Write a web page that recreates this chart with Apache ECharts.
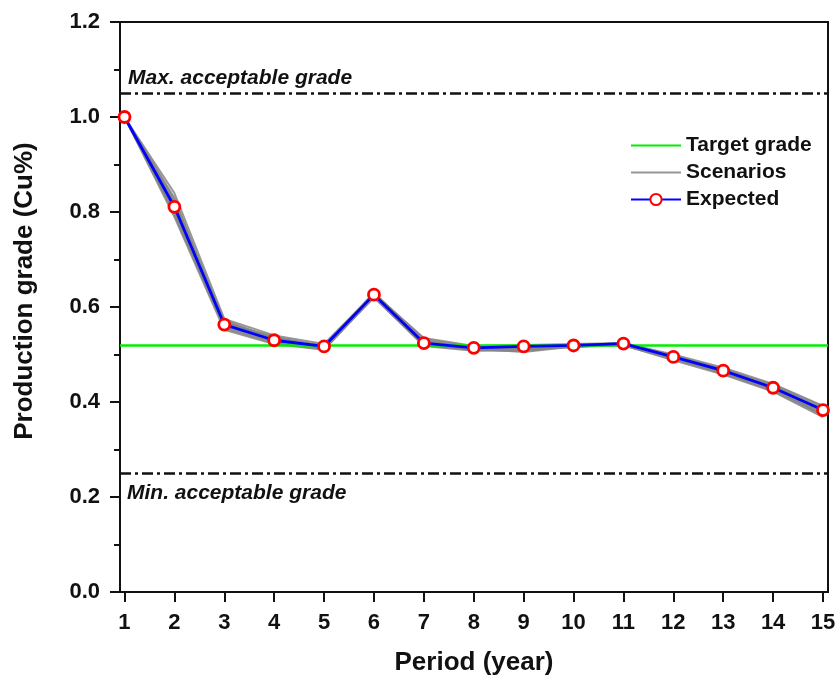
<!DOCTYPE html>
<html>
<head>
<meta charset="utf-8">
<script src="https://cdn.jsdelivr.net/npm/echarts@6/dist/echarts.min.js"></script>
<style>
  html, body { margin: 0; padding: 0; background: #fff; }
  #chart { width: 839px; height: 681px; }
</style>
</head>
<body>
<div id="chart"></div>
<script>
// Periods (years)
const periods = [1, 2, 3, 4, 5, 6, 7, 8, 9, 10, 11, 12, 13, 14, 15];

// Expected production grade per period (Cu%)
const expected = [1.000, 0.811, 0.563, 0.530, 0.517, 0.626, 0.524, 0.514, 0.517, 0.519, 0.523, 0.495, 0.466, 0.430, 0.383];

// Individual simulated scenarios
const scenario1 = [1.000, 0.840, 0.575, 0.540, 0.522, 0.628, 0.535, 0.518, 0.520, 0.522, 0.524, 0.500, 0.472, 0.438, 0.392];
const scenario2 = [1.000, 0.790, 0.552, 0.522, 0.510, 0.622, 0.518, 0.508, 0.510, 0.515, 0.520, 0.488, 0.458, 0.422, 0.368];
const scenario3 = [1.000, 0.825, 0.568, 0.535, 0.518, 0.630, 0.528, 0.512, 0.505, 0.517, 0.522, 0.497, 0.470, 0.434, 0.386];
const scenario4 = [1.000, 0.800, 0.558, 0.526, 0.514, 0.620, 0.520, 0.510, 0.514, 0.520, 0.521, 0.492, 0.462, 0.426, 0.376];
const scenario5 = [1.000, 0.815, 0.570, 0.532, 0.512, 0.624, 0.526, 0.515, 0.518, 0.516, 0.523, 0.494, 0.466, 0.432, 0.380];
const scenario6 = [1.000, 0.805, 0.562, 0.528, 0.520, 0.627, 0.522, 0.509, 0.508, 0.521, 0.519, 0.490, 0.464, 0.428, 0.372];
const scenario7 = [1.000, 0.830, 0.565, 0.538, 0.516, 0.625, 0.530, 0.513, 0.512, 0.518, 0.525, 0.498, 0.468, 0.436, 0.390];
const scenario8 = [1.000, 0.795, 0.555, 0.524, 0.511, 0.621, 0.519, 0.511, 0.516, 0.519, 0.520, 0.491, 0.460, 0.424, 0.372];
const scenario9 = [1.000, 0.820, 0.560, 0.530, 0.515, 0.629, 0.532, 0.516, 0.513, 0.520, 0.522, 0.496, 0.467, 0.431, 0.384];
const scenario10 = [1.000, 0.808, 0.572, 0.534, 0.519, 0.623, 0.523, 0.511, 0.507, 0.518, 0.524, 0.493, 0.463, 0.429, 0.378];
const scenarios = [scenario1, scenario2, scenario3, scenario4, scenario5, scenario6, scenario7, scenario8, scenario9, scenario10];

// Reference grades (Cu%)
const targetGrade = 0.52;
const maxGrade = 1.05;
const minGrade = 0.25;

// Y-axis tick values
const yTicks = [0, 0.2, 0.4, 0.6, 0.8, 1.0, 1.2];

const FONT = 'Arial, "Liberation Sans", sans-serif';
const dashDot = [11, 4, 3, 4];

const pair = arr => periods.map((p, i) => [p, arr[i]]);

const series = [];

// Target grade line across the plot
series.push({
  name: 'Target grade',
  type: 'line',
  data: [],
  symbol: 'none',
  lineStyle: { color: '#00ee00', width: 2.5 },
  itemStyle: { color: '#00ee00' },
  markLine: {
    silent: true,
    symbol: 'none',
    label: { show: false },
    lineStyle: { color: '#00ee00', width: 2.5, type: 'solid' },
    data: [{ yAxis: targetGrade }]
  },
  z: 2
});

// Scenario bundle
scenarios.forEach(s => {
  series.push({
    name: 'Scenarios',
    type: 'line',
    data: pair(s),
    symbol: 'none',
    silent: true,
    lineStyle: { color: '#858585', width: 2, opacity: 0.85 },
    itemStyle: { color: '#858585' },
    z: 3
  });
});

// Acceptable grade limits
series.push({
  name: 'limits',
  type: 'line',
  data: [],
  symbol: 'none',
  markLine: {
    silent: true,
    symbol: 'none',
    lineStyle: { color: '#111', width: 2.5, type: dashDot },
    label: {
      show: true,
      fontFamily: FONT,
      fontSize: 21,
      fontWeight: 'bold',
      fontStyle: 'italic',
      color: '#111'
    },
    data: [
      { yAxis: maxGrade, label: { position: 'insideStartTop', distance: [8, 5], formatter: 'Max. acceptable grade' } },
      { yAxis: minGrade, label: { position: 'insideStartBottom', distance: [7, 9], formatter: 'Min. acceptable grade' } }
    ]
  },
  z: 2
});

// Expected grade
series.push({
  name: 'Expected',
  type: 'line',
  data: pair(expected),
  symbol: 'circle',
  symbolSize: 11,
  lineStyle: { color: '#0000ff', width: 2.8 },
  itemStyle: { color: '#ffffff', borderColor: '#ff0000', borderWidth: 2.8 },
  z: 5
});

const chart = echarts.init(document.getElementById('chart'), null, { renderer: 'canvas' });
chart.setOption({
  animation: false,
  backgroundColor: '#ffffff',
  grid: {
    left: 120, right: 11, top: 22, bottom: 88,
    show: true, borderColor: '#111', borderWidth: 2
  },
  legend: {
    data: [
      { name: 'Target grade', itemStyle: { opacity: 0 } },
      { name: 'Scenarios', itemStyle: { opacity: 0 } },
      { name: 'Expected' }
    ],
    orient: 'vertical',
    left: 625,
    top: 130,
    itemWidth: 50,
    itemHeight: 14,
    itemGap: 6,
    textStyle: { fontFamily: FONT, fontSize: 21, fontWeight: 'bold', color: '#111' }
  },
  xAxis: {
    type: 'value',
    min: 0.91,
    max: 15.1,
    name: 'Period (year)',
    nameLocation: 'middle',
    nameGap: 58,
    nameTextStyle: { fontFamily: FONT, fontSize: 26, fontWeight: 'bold', color: '#111' },
    axisLine: { show: true, onZero: false, lineStyle: { color: '#111', width: 2 } },
    axisTick: { show: true, length: 10, lineStyle: { color: '#111', width: 2 }, customValues: periods },
    axisLabel: {
      customValues: periods,
      margin: 20,
      fontFamily: FONT, fontSize: 22, fontWeight: 'bold', color: '#111'
    },
    splitLine: { show: false }
  },
  yAxis: {
    type: 'value',
    min: 0,
    max: 1.2,
    interval: 0.2,
    name: 'Production grade (Cu%)',
    nameLocation: 'middle',
    nameGap: 82,
    nameTextStyle: {
      fontFamily: FONT, fontSize: 26, fontWeight: 'bold', color: '#111',
      padding: [0, 0, 0, 32]
    },
    axisLine: { show: true, lineStyle: { color: '#111', width: 2 } },
    axisTick: { show: true, length: 10, lineStyle: { color: '#111', width: 2 }, customValues: yTicks },
    minorTick: { show: true, splitNumber: 2, length: 6, lineStyle: { color: '#111', width: 2 } },
    axisLabel: {
      customValues: yTicks,
      margin: 20,
      formatter: v => v.toFixed(1),
      fontFamily: FONT, fontSize: 22, fontWeight: 'bold', color: '#111'
    },
    splitLine: { show: false }
  },
  series: series
});
</script>
</body>
</html>
